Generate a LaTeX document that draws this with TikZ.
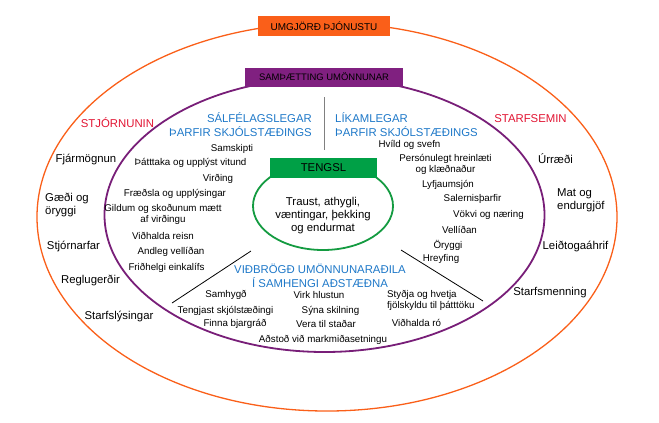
\documentclass[tikz,border=0pt]{standalone}
\usepackage{fontspec}
\setmainfont{Liberation Sans}
\usetikzlibrary{shapes.geometric}

\definecolor{ringOrange}{RGB}{250,95,25}
\definecolor{ringPurple}{RGB}{120,30,120}
\definecolor{boxPurple}{RGB}{128,32,128}
\definecolor{bondGreen}{RGB}{20,155,65}
\definecolor{boxGreen}{RGB}{0,160,70}
\definecolor{headBlue}{RGB}{30,120,200}
\definecolor{headRed}{RGB}{225,20,50}

\begin{document}
\begin{tikzpicture}
[x=1bp,y=-1bp,
  boxDecorate/.style={shape=rectangle,inner sep=0pt,text=black},
  outerDecorate/.style={font=\fontsize{11.4}{13}\selectfont,inner sep=0pt},
  innerDecorate/.style={font=\fontsize{9.8}{11}\selectfont,inner sep=0pt},
  headDecorate/.style={font=\fontsize{11.4}{13.5}\selectfont,inner sep=0pt,text=headBlue},
  lineDecorate/.style={-,line width=0.8bp}]
\useasboundingbox (0,0) rectangle (659,422);
%% rings
\draw [ringOrange,line width=1.3bp] (327,217) ellipse [x radius=290bp,y radius=194bp];
\draw [ringPurple,line width=1.8bp] (324.5,215) ellipse [x radius=220bp,y radius=137bp];
\node (bond) at (323,206) [shape=ellipse,draw=bondGreen,line width=1.8bp,
  minimum width=140bp,minimum height=88bp] {};
%% title boxes
\node (frame) at (324,26) [boxDecorate,fill=ringOrange,minimum width=132bp,
  minimum height=20bp,font=\fontsize{10}{12}\selectfont] {UMGJÖRÐ ÞJÓNUSTU};
\node (care) at (324,77) [boxDecorate,fill=boxPurple,minimum width=158bp,
  minimum height=19bp,font=\fontsize{9.5}{12}\selectfont] {SAMÞÆTTING UMÖNNUNAR};
\node (tengsl) at (323.5,168) [boxDecorate,fill=boxGreen,minimum width=107bp,
  minimum height=20bp,font=\fontsize{11.4}{13}\selectfont] {TENGSL};
\node (bondtext) at (323,216) [outerDecorate,align=center]
  {Traust, athygli,\\væntingar, þekking\\og endurmat};
%% headings
\node (mind) at (312,124.5) [headDecorate,anchor=east,align=right]
  {SÁLFÉLAGSLEGAR\\ÞARFIR SKJÓLSTÆÐINGS};
\node (body) at (335,124.5) [headDecorate,anchor=west,align=left]
  {LÍKAMLEGAR\\ÞARFIR SKJÓLSTÆÐINGS};
\node (react) at (320,276) [headDecorate,align=center]
  {VIÐBRÖGÐ UMÖNNUNARAÐILA\\Í SAMHENGI AÐSTÆÐNA};
\node (mgmt) at (117.5,123) [outerDecorate,text=headRed] {STJÓRNUNIN};
\node (ops) at (530.5,119) [outerDecorate,text=headRed] {STARFSEMIN};
%% outer ring labels
\foreach \nodename/\x/\y/\txt in {
  fund/86/159/{Fjármögnun}, gov/73.5/246/{Stjórnarfar}, rules/90.5/280/{Reglugerðir},
  jobs/119/316/{Starfslýsingar}, res/555.5/159/{Úrræði},
  lead/575.5/246/{Leiðtogaáhrif}, cult/550/293/{Starfsmenning}}
{
  \node (\nodename) at (\x,\y) [outerDecorate] {\txt};
}
\node (quality) at (45,204.5) [outerDecorate,anchor=west,align=left] {Gæði og\\öryggi};
\node (eval) at (557,200.5) [outerDecorate,anchor=west,align=left] {Mat og\\endurgjöf};
%% inner ring labels
\foreach \nodename/\x/\y/\txt in {
  talk/232/149/{Samskipti}, part/190.5/163/{Þátttaka og upplýst vitund},
  resp/218/179/{Virðing}, edu/175/194/{Fræðsla og upplýsingar},
  dign/163/236/{Viðhalda reisn}, spirit/171/252/{Andleg vellíðan},
  priv/166.5/268/{Friðhelgi einkalífs},
  rest/409.5/145/{Hvíld og svefn}, meds/448/185/{Lyfjaumsjón},
  toilet/472.5/199/{Salernisþarfir}, food/488.5/215/{Vökvi og næring},
  well/459.5/230/{Vellíðan}, safe/448/245/{Öryggi}, move/441/259/{Hreyfing},
  emp/226/295/{Samhygð}, link/225.5/311/{Tengjast skjólstæðingi},
  cope/235/324/{Finna bjargráð}, listen/319/295/{Virk hlustun},
  underst/330.5/311/{Sýna skilning}, present/326/324/{Vera til staðar},
  goals/323/340/{Aðstoð við markmiðasetningu}, calm/416.5/323/{Viðhalda ró}}
{
  \node (\nodename) at (\x,\y) [innerDecorate] {\txt};
}
\node (values) at (163,214.5) [innerDecorate,align=center]
  {Gildum og skoðunum mætt\\af virðingu};
\node (hygiene) at (445.5,164.5) [innerDecorate,align=center]
  {Persónulegt hreinlæti\\og klæðnaður};
\node (family) at (387,300.5) [innerDecorate,anchor=west,align=left]
  {Styðja og hvetja\\fjölskyldu til þátttöku};
%% dividing lines
\coordinate (splitTop) at (324,97);
\coordinate (splitEnd) at (324,150);
\coordinate (leftIn) at (251,251);
\coordinate (leftOut) at (172,303);
\coordinate (rightIn) at (401,250);
\coordinate (rightOut) at (483,301);
\draw [lineDecorate,gray] (splitTop) -- (splitEnd);
\draw [lineDecorate] (leftIn) -- (leftOut);
\draw [lineDecorate] (rightIn) -- (rightOut);
\end{tikzpicture}
\end{document}
